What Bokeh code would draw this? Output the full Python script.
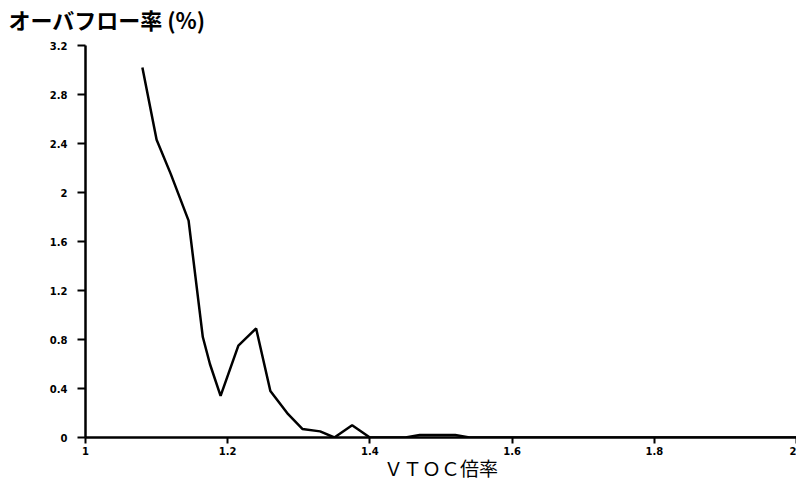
from bokeh.plotting import figure
from bokeh.models import FixedTicker, NumeralTickFormatter, Range1d, Title
from bokeh.embed import file_html
from bokeh.resources import INLINE

# Data
vtoc_ratio = [1.08, 1.10, 1.12, 1.145, 1.165, 1.175, 1.19, 1.215, 1.24, 1.26,
              1.285, 1.305, 1.33, 1.35, 1.375, 1.40, 1.45, 1.47, 1.52, 1.54, 2.0]
overflow_pct = [3.02, 2.43, 2.15, 1.77, 0.82, 0.60, 0.34, 0.75, 0.89, 0.38,
                0.19, 0.07, 0.05, 0.0, 0.10, 0.0, 0.0, 0.02, 0.02, 0.0, 0.0]
x_ticks = [1.0, 1.2, 1.4, 1.6, 1.8, 2.0]
y_ticks = [0.0, 0.4, 0.8, 1.2, 1.6, 2.0, 2.4, 2.8, 3.2]

title_text = "オーバフロー率 (%)"
x_label = "ＶＴＯＣ倍率"

p = figure(width=796, height=490, output_backend="svg", toolbar_location=None,
           x_range=Range1d(1.0, 2.0), y_range=Range1d(0.0, 3.2))
p.title_location = None
p.min_border_left = 85
p.min_border_right = 0
p.min_border_top = 45
p.min_border_bottom = 53
p.outline_line_color = None
p.background_fill_color = "white"
p.border_fill_color = "white"
p.xgrid.visible = False
p.ygrid.visible = False

# small spacer title next to the frame, then the real title above it
spacer = Title(text=" ", text_font="DejaVu Sans", text_font_size="6px",
               standoff=2, align="left")
p.add_layout(spacer, "above")
main_title = Title(text=title_text, align="left", offset=-77, standoff=0,
                   text_font="Noto Sans CJK JP", text_font_size="22px",
                   text_font_style="bold", text_color="black")
p.add_layout(main_title, "above")

p.line(vtoc_ratio, overflow_pct, line_color="black", line_width=2.5)

for ax in (p.xaxis[0], p.yaxis[0]):
    ax.axis_line_width = 2.5
    ax.axis_line_color = "black"
    ax.major_tick_line_width = 2
    ax.major_tick_line_color = "black"
    ax.major_tick_in = 0
    ax.minor_tick_line_color = None
    ax.major_label_text_font = "DejaVu Sans"
    ax.major_label_text_font_size = "10px"
    ax.major_label_text_font_style = "bold"
    ax.major_label_text_color = "black"
    ax.formatter = NumeralTickFormatter(format="0.[0]")

p.xaxis.ticker = FixedTicker(ticks=x_ticks)
p.yaxis.ticker = FixedTicker(ticks=y_ticks)
p.xaxis.major_tick_out = 6
p.yaxis.major_tick_out = 8
p.xaxis.major_label_standoff = 3
p.yaxis.major_label_standoff = 10

p.xaxis.axis_label = x_label
p.xaxis.axis_label_text_font = "Noto Sans CJK JP"
p.xaxis.axis_label_text_font_size = "19px"
p.xaxis.axis_label_text_font_style = "normal"
p.xaxis.axis_label_text_color = "black"
p.xaxis.axis_label_standoff = -4

open("out.html", "w").write(file_html(p, INLINE))
